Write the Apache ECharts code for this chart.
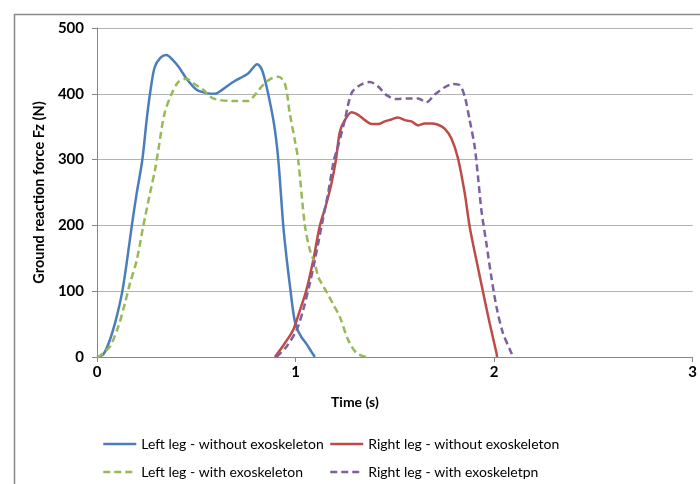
<!DOCTYPE html>
<html><head><meta charset="utf-8">
<script src="https://cdn.jsdelivr.net/npm/echarts@6/dist/echarts.min.js"></script>
<style>html,body{margin:0;padding:0;background:#fff}#c{width:700px;height:484px}</style>
</head><body><div id="c"></div>
<script>
const seriesNames = ['Left leg - without exoskeleton','Right leg - without exoskeleton','Left leg - with exoskeleton','Right leg - with exoskeletpn'];
const xTicks = [0,1,2,3];
const yTicks = [0,100,200,300,400,500];
const axisTitleX = 'Time (s)';
const axisTitleY = 'Ground reaction force Fz (N)';

const leftWithout = [[0,0],[0.032,4],[0.065,26],[0.099,61],[0.127,99],[0.149,142],[0.175,199],[0.2,249],[0.228,299],[0.25,360],[0.267,400],[0.29,440],[0.32,455],[0.35,459],[0.38,452],[0.411,441],[0.451,423],[0.502,406],[0.552,401],[0.594,400],[0.63,406],[0.686,418],[0.761,431],[0.807,445],[0.83,437],[0.854,411],[0.891,355],[0.913,300],[0.938,200],[0.955,150],[0.975,100],[0.99,65],[1.005,45],[1.03,30],[1.055,20],[1.08,8],[1.097,0]];
const leftWith = [[0,0],[0.015,2],[0.065,16],[0.107,46],[0.141,82],[0.166,112],[0.2,147],[0.233,199],[0.267,249],[0.292,284],[0.309,315],[0.34,370],[0.376,400],[0.41,418],[0.451,423],[0.49,415],[0.535,406],[0.585,393],[0.686,389],[0.761,389],[0.8,400],[0.829,411],[0.87,422],[0.913,426],[0.946,416],[0.971,370],[0.996,330],[1.013,300],[1.047,200],[1.072,163],[1.097,142],[1.114,122],[1.131,112],[1.156,99],[1.19,80],[1.223,61],[1.265,26],[1.307,6],[1.357,0]];
const rightWithout = [[0.896,0],[0.946,21],[0.988,41],[1.022,71],[1.055,102],[1.089,147],[1.122,199],[1.156,234],[1.181,264],[1.203,299],[1.223,342],[1.248,360],[1.282,372],[1.315,368],[1.349,360],[1.382,354],[1.416,354],[1.449,358],[1.483,361],[1.516,364],[1.55,360],[1.584,358],[1.617,352],[1.651,355],[1.684,355],[1.718,353],[1.751,347],[1.785,332],[1.818,302],[1.852,249],[1.877,198],[1.911,147],[1.944,99],[1.978,51],[2.012,6],[2.015,0]];
const rightWith = [[0.904,0],[0.955,16],[1.005,41],[1.038,71],[1.072,112],[1.097,147],[1.131,199],[1.164,249],[1.193,299],[1.214,320],[1.248,360],[1.282,401],[1.324,413],[1.374,418],[1.416,411],[1.458,398],[1.508,392],[1.575,393],[1.617,393],[1.659,387],[1.701,399],[1.751,410],[1.793,415],[1.827,413],[1.852,396],[1.877,360],[1.902,320],[1.919,274],[1.936,223],[1.961,173],[1.986,122],[2.012,76],[2.045,36],[2.087,6],[2.094,0]];

const colors = ['#4a7ebb','#be4b48','#98b954','#7d60a0'];
const dataSets = [leftWithout, rightWithout, leftWith, rightWith];
const dashed = [false,false,true,true];
const FONT = 'Lato';

const chart = echarts.init(document.getElementById('c'));
const series = dataSets.map((d,i)=>({
  name: seriesNames[i], type:'line', data:d, showSymbol:false, symbol:'none',
  smooth:0.3, animation:false,
  lineStyle:{color:colors[i], width:2.5, type: dashed[i]?[7,4]:'solid', cap:'butt'},
  itemStyle:{color:colors[i]}
}));
const legPos = [[102,437],[329,437],[102,465],[329,465]];
const legends = seriesNames.map((n,i)=>({
  show:true,
  data:[n], left:legPos[i][0], top:legPos[i][1], orient:'horizontal',
  itemWidth:33, itemHeight:14, itemGap:4, padding:0,
  itemStyle:{opacity:0},
  lineStyle:{width:2.5},
  textStyle:{fontFamily:FONT, fontSize:14, color:'#000'},
  selectedMode:false
}));
chart.setOption({
  animation:false,
  color: colors,
  grid:{left:97, right:7, top:28, bottom:127, containLabel:false},
  legend: legends,
  xAxis:{type:'value', min:0, max:3, interval:1,
    axisLine:{show:true, lineStyle:{color:'#868686', width:1}},
    axisTick:{show:true, length:5, lineStyle:{color:'#868686'}},
    splitLine:{show:false},
    axisLabel:{fontFamily:FONT, fontWeight:'bold', fontSize:15, color:'#000', margin:8,
      formatter:v=> xTicks.includes(v)? String(v):''}
  },
  yAxis:{type:'value', min:0, max:500, interval:100,
    name: axisTitleY, nameLocation:'middle', nameGap:50,
    nameTextStyle:{fontFamily:FONT, fontWeight:'bold', fontSize:14.5, color:'#000'},
    axisLine:{show:true, lineStyle:{color:'#868686', width:1}},
    axisTick:{show:true, length:5, lineStyle:{color:'#868686'}},
    splitLine:{show:true, lineStyle:{color:'#b3b3b3', width:1}},
    axisLabel:{fontFamily:FONT, fontWeight:'bold', fontSize:15, color:'#000', margin:13,
      formatter:v=> yTicks.includes(v)? String(v):''}
  },
  graphic:[
    {type:'rect', left:12, top:12, silent:true, shape:{width:700, height:480},
      style:{fill:'none', stroke:'#888', lineWidth:1.5}},
    {type:'text', left:331, top:395, silent:true,
      style:{text:axisTitleX, font:'bold 14px Lato', fill:'#000'}}
  ],
  series: series
});
</script></body></html>
